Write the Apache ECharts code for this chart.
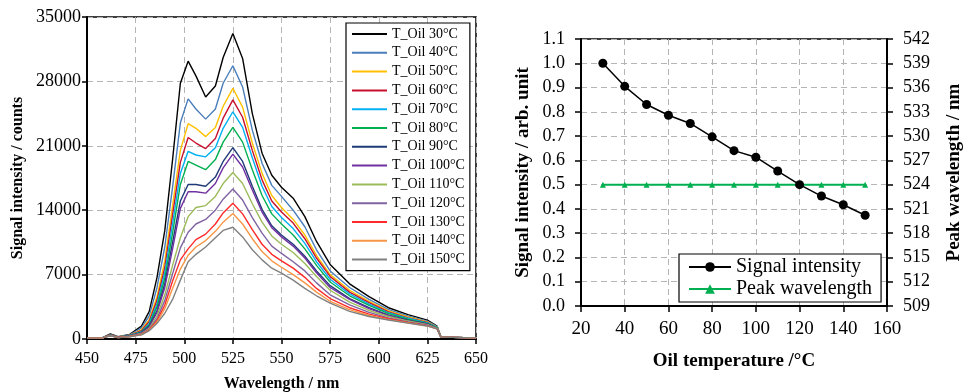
<!DOCTYPE html>
<html><head><meta charset="utf-8">
<script src="https://cdn.jsdelivr.net/npm/echarts@6/dist/echarts.min.js"></script>
<style>html,body{margin:0;padding:0;background:#fff;}#c{width:978px;height:392px;}</style>
</head><body><div id="c"></div>
<script>
// ---- Left chart: spectra ----
const wavelengths = [450,458,462,466,472,478,482,486,490,494,498,502,506,511,516,520,525,530,535,540,545,550,556,562,568,575,585,595,605,615,625,630,632,650];
const T30  = [100,150,550,250,500,1400,3000,6700,11800,19500,27800,30200,28600,26300,27500,30600,33200,30500,24500,20200,17800,16500,15300,13300,10600,8100,6000,4600,3400,2650,2050,1400,200,120];
const T40  = [100,140,480,230,450,1200,2500,5600,10000,16500,23500,26100,25000,23900,25000,27800,29700,27400,22700,19100,16700,15500,14000,12200,9700,7400,5600,4300,3200,2500,1950,1350,200,120];
const T50  = [100,130,450,220,420,1000,2100,4600,8500,14500,20500,23400,22900,22000,23000,25300,27250,25200,21300,18000,15600,14300,13000,11300,9100,7000,5300,4100,3050,2400,1850,1300,200,120];
const T60  = [100,130,440,210,400,900,1900,4200,7800,13500,19200,21900,21300,20700,21800,24000,26000,24100,20500,17300,15000,13800,12600,10900,8800,6800,5100,3950,2950,2300,1800,1250,200,120];
const T70  = [100,130,430,200,380,800,1700,3800,7200,12500,18000,20400,20000,19800,20800,22900,24700,23000,19700,16600,14400,13200,12000,10400,8400,6500,4900,3800,2850,2250,1750,1250,200,120];
const T80  = [100,125,420,200,360,750,1550,3500,6600,11500,16800,19300,18900,18400,19500,21400,23000,21400,18400,15600,13600,12500,11300,9800,8000,6200,4700,3650,2750,2150,1700,1200,200,120];
const T90  = [100,125,410,190,340,700,1400,3100,6000,10500,15000,16800,16800,16600,17600,19300,20800,19300,16600,14100,12300,11300,10300,9000,7400,5800,4400,3400,2600,2050,1650,1150,200,120];
const T100 = [100,120,400,190,330,650,1300,2900,5600,9800,14200,16000,16000,15850,16900,18600,20100,18700,16200,13800,12100,11100,10100,8800,7200,5600,4300,3300,2550,2000,1600,1150,200,120];
const T110 = [100,120,390,180,310,600,1150,2500,4800,8000,11000,13300,14300,14500,15500,16900,18100,16900,14700,12700,11200,10300,9400,8200,6800,5300,4000,3100,2450,1950,1550,1150,200,120];
const T120 = [100,120,380,170,290,550,1050,2200,4200,7100,9900,11600,12500,13000,14000,15200,16300,15100,13200,11500,10100,9300,8400,7400,6100,4800,3700,2900,2300,1850,1500,1100,200,120];
const T130 = [100,120,370,160,270,500,1000,2000,3700,6300,8600,9800,10800,11400,12500,13700,14750,13600,11900,10300,9200,8500,7700,6700,5500,4400,3400,2700,2200,1800,1450,1100,200,120];
const T140 = [100,120,360,155,260,480,950,1850,3300,5500,7600,9100,10000,10700,11700,12700,13650,12500,10900,9500,8500,7800,7000,6100,5100,4100,3200,2550,2100,1750,1400,1100,200,120];
const T150 = [100,120,350,150,250,450,900,1700,2800,4300,6400,8400,9200,10000,11000,11800,12150,11100,9700,8600,7700,7150,6400,5500,4700,3900,3000,2450,2070,1720,1420,1100,200,120];
const spectraNames = ['T_Oil 30°C','T_Oil 40°C','T_Oil 50°C','T_Oil 60°C','T_Oil 70°C','T_Oil 80°C','T_Oil 90°C','T_Oil 100°C','T_Oil 110°C','T_Oil 120°C','T_Oil 130°C','T_Oil 140°C','T_Oil 150°C'];
const spectraValues = [T30,T40,T50,T60,T70,T80,T90,T100,T110,T120,T130,T140,T150];
const spectraColors = ['#000000','#4a7ebb','#ffc000','#c8102e','#00b0f0','#00b050','#1f3a78','#7030a0','#9bbb59','#8064a2','#ff2a2a','#f79646','#808080'];
const leftXTicks = {min:450, max:650, interval:25};
const leftYTicks = {min:0, max:35000, interval:7000};

// ---- Right chart: signal / peak vs temperature ----
const oilTemps = [30,40,50,60,70,80,90,100,110,120,130,140,150];
const signalIntensity = [1.0,0.905,0.83,0.786,0.752,0.697,0.64,0.613,0.556,0.5,0.453,0.417,0.374];
const peakWavelength = [524,524,524,524,524,524,524,524,524,524,524,524,524];
const peakAxisBase = 509; // right axis runs 509..542 step 3
const peakAxisTop = 542;

const FONT = 'Liberation Serif';
const grid0 = {left:87, right:502, top:17, bottom:53};
const grid1 = {left:581, right:91, top:39, bottom:86};
const split = {show:true, lineStyle:{color:'#b4b4b4', type:[6,4], width:1}};

const series = spectraNames.map((n,i)=>({
  name:n, type:'line', xAxisIndex:0, yAxisIndex:0, symbol:'none', smooth:false,
  lineStyle:{width:1.4, color:spectraColors[i]}, itemStyle:{color:spectraColors[i]},
  data: wavelengths.map((w,k)=>[w, spectraValues[i][k]])
}));
series.push({
  name:'Signal intensity', type:'line', xAxisIndex:1, yAxisIndex:1, symbol:'circle', symbolSize:9,
  lineStyle:{width:1.5, color:'#000'}, itemStyle:{color:'#000'},
  data: oilTemps.map((t,k)=>[t, signalIntensity[k]]), z:5
});
series.push({
  name:'Peak wavelength', type:'line', xAxisIndex:1, yAxisIndex:2, symbol:'triangle', symbolSize:6,
  lineStyle:{width:2, color:'#00b050'}, itemStyle:{color:'#00b050'},
  data: oilTemps.map((t,k)=>[t, peakWavelength[k]-peakAxisBase]), z:4
});

const option = {
  animation:false,
  textStyle:{fontFamily:FONT, color:'#000'},
  grid:[
    Object.assign({show:true, borderColor:'#000', borderWidth:1.5, containLabel:false, outerBoundsMode:'none'}, grid0),
    Object.assign({show:true, borderColor:'#000', borderWidth:1.5, containLabel:false, outerBoundsMode:'none'}, grid1)
  ],
  xAxis:[
    {type:'value', gridIndex:0, min:leftXTicks.min, max:leftXTicks.max, interval:leftXTicks.interval,
     axisLine:{lineStyle:{color:'#000', width:2}}, axisTick:{show:true, length:5, lineStyle:{color:'#000', width:1.5}},
     axisLabel:{color:'#000', fontSize:16, fontFamily:FONT, margin:12, formatter:v=>String(v)}, splitLine:split,
     name:'Wavelength / nm', nameLocation:'middle', nameGap:37,
     nameTextStyle:{fontWeight:'bold', fontSize:16, fontFamily:FONT, color:'#000'}},
    {type:'value', gridIndex:1, min:20, max:160, interval:20,
     axisLine:{lineStyle:{color:'#000', width:2}}, axisTick:{show:true, length:6, lineStyle:{color:'#000', width:1.5}},
     axisLabel:{color:'#000', fontSize:19, fontFamily:FONT, margin:14}, splitLine:split,
     name:'Oil temperature /°C', nameLocation:'middle', nameGap:46,
     nameTextStyle:{fontWeight:'bold', fontSize:19, fontFamily:FONT, color:'#000'}}
  ],
  yAxis:[
    {type:'value', gridIndex:0, min:leftYTicks.min, max:leftYTicks.max, interval:leftYTicks.interval,
     axisLine:{show:true, lineStyle:{color:'#000', width:2}}, axisTick:{show:true, length:5, lineStyle:{color:'#000', width:1.5}},
     axisLabel:{color:'#000', fontSize:18, fontFamily:FONT, margin:6, formatter:v=>String(v)}, splitLine:split,
     name:'Signal intensity / counts', nameLocation:'middle', nameRotate:90, nameGap:61,
     nameTextStyle:{fontWeight:'bold', fontSize:16, fontFamily:FONT, color:'#000'}},
    {type:'value', gridIndex:1, position:'left', min:0, max:1.1, interval:0.1,
     axisLine:{show:true, lineStyle:{color:'#000', width:2}}, axisTick:{show:true, length:6, lineStyle:{color:'#000', width:1.5}},
     axisLabel:{color:'#000', fontSize:18, fontFamily:FONT, margin:16, formatter:v=>v.toFixed(1)}, splitLine:split,
     name:'Signal intensity / arb. unit', nameLocation:'middle', nameRotate:90, nameGap:48,
     nameTextStyle:{fontWeight:'bold', fontSize:19, fontFamily:FONT, color:'#000'}},
    {type:'value', gridIndex:1, position:'right', min:0, max:peakAxisTop-peakAxisBase, interval:3,
     axisLine:{show:true, lineStyle:{color:'#000', width:2}}, axisTick:{show:true, length:6, lineStyle:{color:'#000', width:1.5}},
     axisLabel:{color:'#000', fontSize:18, fontFamily:FONT, margin:16, formatter:v=>String(v+peakAxisBase)}, splitLine:{show:false},
     name:'Peak wavelength / nm', nameLocation:'middle', nameRotate:90, nameGap:58,
     nameTextStyle:{fontWeight:'bold', fontSize:19, fontFamily:FONT, color:'#000'}}
  ],
  legend:[
    {data:spectraNames, orient:'vertical', left:346, top:23, icon:'rect', itemWidth:35, itemHeight:2, itemGap:4.8,
     padding:[4,5,4,6], backgroundColor:'#fff', borderColor:'#000', borderWidth:1.2,
     textStyle:{fontSize:14, fontFamily:FONT, color:'#000', lineHeight:14}},
    {data:['Signal intensity','Peak wavelength'], orient:'vertical', left:679, top:254, itemWidth:42, itemHeight:12, itemGap:2,
     padding:[3,9,3,9], backgroundColor:'#fff', borderColor:'#000', borderWidth:1.2,
     textStyle:{fontSize:20, fontFamily:FONT, color:'#000', lineHeight:14}}
  ],
  series:series
};
const chart = echarts.init(document.getElementById('c'));
chart.setOption(option);
</script>
</body></html>
